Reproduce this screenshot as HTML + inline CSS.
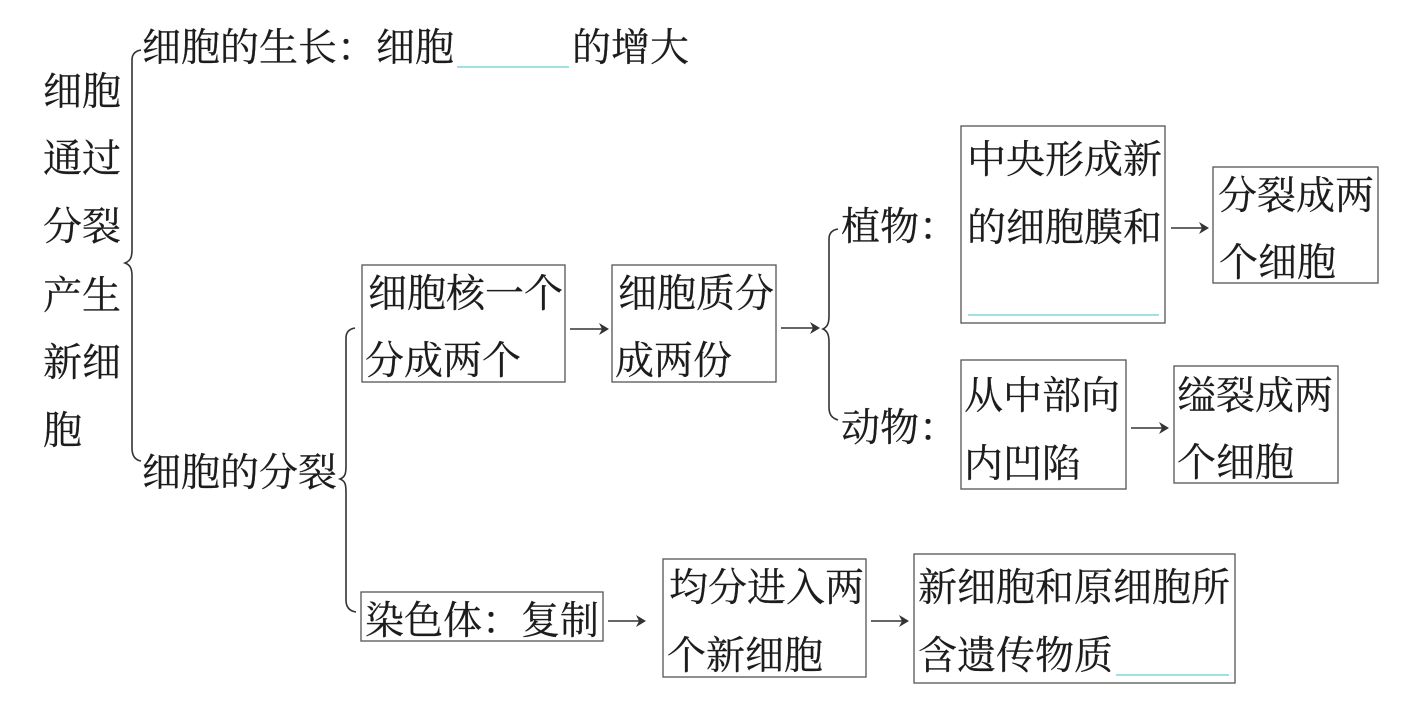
<!DOCTYPE html>
<html><head><meta charset="utf-8"><style>
html,body{margin:0;padding:0;background:#fff;width:1411px;height:704px;overflow:hidden}
svg{display:block}
text{font-family:"Liberation Serif","Noto Serif CJK SC",serif;font-size:39px;fill:#1c1c1c;stroke:#1c1c1c;stroke-width:.25}
.b{fill:none;stroke:#555;stroke-width:1.3}
.l{fill:none;stroke:#333;stroke-width:1.6}
.u{stroke:#7fd6dc;stroke-width:1.6}
.h{fill:#333;stroke:none}
</style></head><body>
<svg width="1411" height="704" viewBox="0 0 1411 704" xmlns="http://www.w3.org/2000/svg">
<text x="43" y="105">细胞</text>
<text x="43" y="172">通过</text>
<text x="43" y="240">分裂</text>
<text x="43" y="309">产生</text>
<text x="43" y="376">新细</text>
<text x="43" y="444">胞</text>

<path class="l" d="M141 50 C135 51 132 54 132 60 L132 250 C132 258 130 261 125 263 C130 265 132 268 132 276 L132 448 C132 456 135 460 141 461"/>
<text x="142" y="61">细胞的生长：细胞</text>
<line class="u" x1="457" y1="67" x2="569" y2="67"/>
<text x="572" y="61">的增大</text>

<text x="142" y="486">细胞的分裂</text>
<path class="l" d="M355 328 C349 329 346 332 346 338 L346 466 C346 474 345 477 340 479 C345 481 346 484 346 492 L346 600 C346 607 349 611 356 612"/>

<rect class="b" x="362" y="265" width="203" height="117"/>
<text x="368" y="307">细胞核一个</text>
<text x="365" y="374">分成两个</text>
<path class="l" d="M570 329H604"/><path class="h" d="M609 329l-10-6 3 6-3 6z"/>

<rect class="b" x="612" y="265" width="164" height="117"/>
<text x="618" y="307">细胞质分</text>
<text x="615" y="374">成两份</text>
<path class="l" d="M781 328H815"/><path class="h" d="M820 328l-10-6 3 6-3 6z"/>

<path class="l" d="M838 229 C832 230 829 233 829 239 L829 316 C829 324 827 327 823 329 C827 331 829 334 829 342 L829 407 C829 415 832 418 838 420"/>
<text x="841" y="240">植物：</text>
<text x="841" y="441">动物：</text>

<rect class="b" x="961" y="126" width="204" height="197"/>
<text x="967" y="173">中央形成新</text>
<text x="967" y="241">的细胞膜和</text>
<line class="u" x1="968" y1="315" x2="1159" y2="315"/>
<path class="l" d="M1171 228H1204"/><path class="h" d="M1209 228l-10-6 3 6-3 6z"/>

<rect class="b" x="1213" y="167" width="165" height="116"/>
<text x="1218" y="209">分裂成两</text>
<text x="1219" y="276">个细胞</text>

<rect class="b" x="961" y="360" width="165" height="129"/>
<text x="964" y="409">从中部向</text>
<text x="964" y="477">内凹陷</text>
<path class="l" d="M1131 428H1164"/><path class="h" d="M1169 428l-10-6 3 6-3 6z"/>

<rect class="b" x="1174" y="366" width="164" height="117"/>
<text x="1177" y="409">缢裂成两</text>
<text x="1177" y="476">个细胞</text>

<rect class="b" x="361" y="592" width="242" height="49"/>
<text x="365" y="634">染色体：复制</text>
<path class="l" d="M608 621H641"/><path class="h" d="M646 621l-10-6 3 6-3 6z"/>

<rect class="b" x="663" y="559" width="203" height="118"/>
<text x="669" y="601">均分进入两</text>
<text x="667" y="669">个新细胞</text>
<path class="l" d="M871 621H904"/><path class="h" d="M909 621l-10-6 3 6-3 6z"/>

<rect class="b" x="914" y="554" width="321" height="129"/>
<text x="918" y="601">新细胞和原细胞所</text>
<text x="918" y="669">含遗传物质</text>
<line class="u" x1="1116" y1="675" x2="1229" y2="675"/>
</svg>
</body></html>
